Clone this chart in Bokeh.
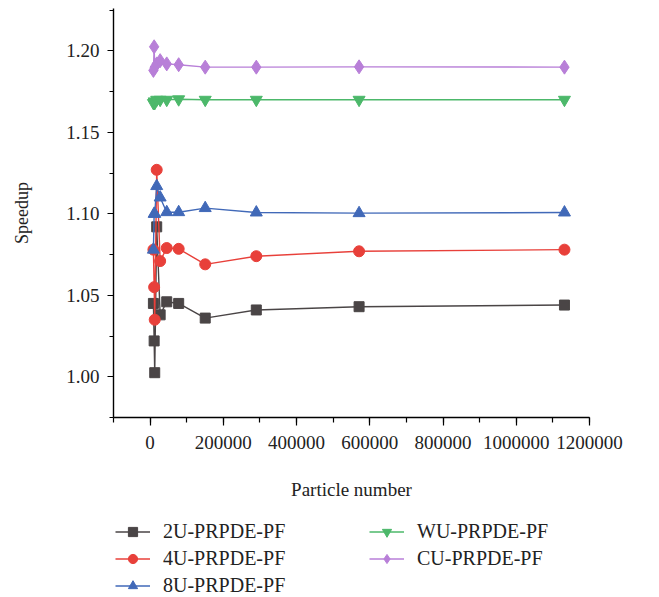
from bokeh.plotting import figure
from bokeh.layouts import column
from bokeh.models import Range1d, Legend, LegendItem, SingleIntervalTicker, NumeralTickFormatter
from bokeh.embed import file_html
from bokeh.resources import INLINE

# Particle counts and measured speedups for each variant
particles = [9000, 11000, 12600, 18000, 27400, 45400, 78000, 150500, 290000, 570700, 1131600]
speedup_2u = [1.045, 1.022, 1.0025, 1.092, 1.038, 1.046, 1.045, 1.036, 1.041, 1.043, 1.044]
speedup_4u = [1.078, 1.055, 1.035, 1.127, 1.071, 1.079, 1.0785, 1.069, 1.074, 1.077, 1.078]
speedup_8u = [1.078, 1.100, 1.100, 1.117, 1.110, 1.101, 1.101, 1.1035, 1.1008, 1.1004, 1.1008]
speedup_wu = [1.168, 1.169, 1.168, 1.170, 1.170, 1.170, 1.1703, 1.170, 1.170, 1.170, 1.170]
speedup_cu = [1.188, 1.2025, 1.190, 1.192, 1.194, 1.192, 1.1915, 1.190, 1.190, 1.1902, 1.190]

series_names = ["2U-PRPDE-PF", "4U-PRPDE-PF", "8U-PRPDE-PF", "WU-PRPDE-PF", "CU-PRPDE-PF"]
series_values = [speedup_2u, speedup_4u, speedup_8u, speedup_wu, speedup_cu]

FONT = "Liberation Serif"
TEXT = "#222222"

# colour, marker, marker size per series
styles = [
    ("#4a4546", "square", 10),
    ("#e8403a", "circle", 11),
    ("#4169b8", "triangle", 12),
    ("#4cb86a", "inverted_triangle", 12),
    ("#b87fd8", "diamond", 14),
]

p = figure(width=659, height=510, output_backend="svg", toolbar_location=None,
           x_range=Range1d(-100000, 1200000), y_range=Range1d(0.975, 1.226),
           min_border_left=113, min_border_right=70, min_border_top=8, min_border_bottom=93)
p.outline_line_color = None
p.xgrid.visible = False
p.ygrid.visible = False

for ys, (col, marker, size) in zip(series_values, styles):
    p.line(particles, ys, line_color=col, line_width=1.4)
    p.scatter(particles, ys, marker=marker, size=size, fill_color=col, line_color=col)

# axes
for ax in (p.xaxis[0], p.yaxis[0]):
    ax.axis_line_color = "black"
    ax.axis_line_width = 1.4
    ax.major_tick_line_color = "black"
    ax.minor_tick_line_color = "black"
    ax.major_tick_line_width = 1.2
    ax.minor_tick_line_width = 1.2
    ax.major_tick_in = 0
    ax.minor_tick_in = 0
    ax.major_label_text_font = FONT
    ax.major_label_text_font_size = "19px"
    ax.major_label_text_color = TEXT
    ax.axis_label_text_font = FONT
    ax.axis_label_text_font_style = "normal"
    ax.axis_label_text_color = TEXT

p.xaxis.ticker = SingleIntervalTicker(interval=200000, num_minor_ticks=2)
p.xaxis.formatter = NumeralTickFormatter(format="0")
p.xaxis.major_tick_out = 8
p.xaxis.minor_tick_out = 5
p.xaxis.major_label_standoff = 10
p.xaxis.axis_label = "Particle number"
p.xaxis.axis_label_text_font_size = "19px"
p.xaxis.axis_label_standoff = 27

p.yaxis.ticker = SingleIntervalTicker(interval=0.05, num_minor_ticks=2)
p.yaxis.formatter = NumeralTickFormatter(format="0.00")
p.yaxis.major_tick_out = 6
p.yaxis.minor_tick_out = 4
p.yaxis.major_label_standoff = 8
p.yaxis.axis_label = "Speedup"
p.yaxis.axis_label_text_font_size = "18px"
p.yaxis.axis_label_standoff = 31

# legend strip under the chart; its renderers carry the series but sit outside its view
lg = figure(width=659, height=87, output_backend="svg", toolbar_location=None,
            x_range=Range1d(0, 1), y_range=Range1d(0, 1),
            x_axis_type=None, y_axis_type=None, min_border=0)
lg.outline_line_color = None
lg.xgrid.visible = False
lg.ygrid.visible = False

items = []
for name, ys, (col, marker, size) in zip(series_names, series_values, styles):
    ln = lg.line(particles, ys, line_color=col, line_width=1.4)
    sc = lg.scatter(particles, ys, marker=marker, size=size, fill_color=col, line_color=col)
    items.append(LegendItem(label=name, renderers=[ln, sc]))

def make_legend(its, loc):
    return Legend(items=its, location=loc, orientation="vertical",
                  label_text_font=FONT, label_text_font_size="20px", label_text_color=TEXT,
                  glyph_width=35, glyph_height=23, label_height=23, label_standoff=13,
                  spacing=4, padding=0, margin=0, border_line_color=None,
                  background_fill_alpha=0)

lg.add_layout(make_legend(items[:3], (2, 0)))
lg.add_layout(make_legend(items[3:], (256, 27)))

open("out.html", "w").write(file_html(column(p, lg), INLINE))
